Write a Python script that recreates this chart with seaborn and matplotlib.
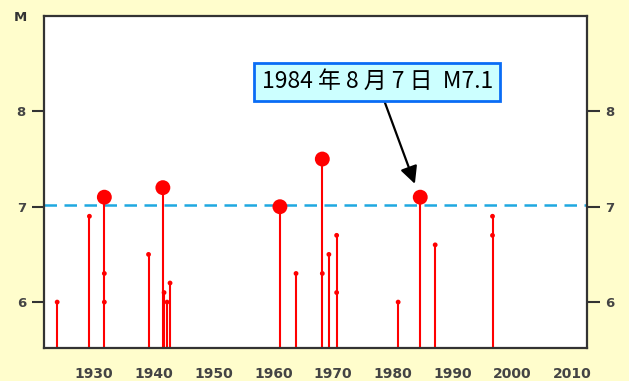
import seaborn as sns
import matplotlib.pyplot as plt
import matplotlib.ticker as mticker
import pandas as pd

# stems: year (decimal) and top magnitude
years = [1923.8, 1929.2, 1931.7, 1939.1, 1941.5, 1941.7, 1942.2, 1942.7,
         1961.1, 1963.8, 1968.2, 1969.3, 1970.6, 1980.9, 1984.6, 1987.1, 1996.7]
mags = [6.0, 6.9, 7.1, 6.5, 7.2, 6.1, 6.0, 6.2,
        7.0, 6.3, 7.5, 6.5, 6.7, 6.0, 7.1, 6.6, 6.9]
# extra small markers along stems
sub_years = [1931.7, 1931.7, 1968.2, 1970.6, 1996.7]
sub_mags = [6.3, 6.0, 6.3, 6.1, 6.7]

big_cut = 7.0
ref_line = 7.02
label_text = "1984 年 8 月 7 日  M7.1"
quake_year, quake_mag = 1984.6, 7.1

df = pd.DataFrame({"year": years, "mag": mags})
big = df[df["mag"] >= big_cut]
small = df[df["mag"] < big_cut]
sub = pd.DataFrame({"year": sub_years, "mag": sub_mags})

sns.set_style("white")
plt.rcParams['font.family'] = ['DejaVu Sans']

fig = plt.figure(figsize=(6.29, 3.81), dpi=100)
fig.patch.set_facecolor("#fffdcc")
ax = fig.add_axes([0.070, 0.087, 0.863, 0.871])
ax.set_facecolor("white")

ax.vlines(df["year"], 5.0, df["mag"], color="red", lw=1.5, zorder=2)
sns.scatterplot(data=small, x="year", y="mag", ax=ax, color="red", s=12,
                edgecolor="none", zorder=3, legend=False)
sns.scatterplot(data=sub, x="year", y="mag", ax=ax, color="red", s=12,
                edgecolor="none", zorder=3, legend=False)
sns.scatterplot(data=big, x="year", y="mag", ax=ax, color="red", s=115,
                edgecolor="none", zorder=4, legend=False)

ax.axhline(ref_line, color="#1fa8e0", lw=1.8, dashes=(5, 3), zorder=1)

ax.set_xlim(1921.6, 2012.5)
ax.set_ylim(5.52, 9.0)

ax.xaxis.set_major_locator(mticker.FixedLocator(range(1930, 2011, 10)))
ax.xaxis.set_minor_locator(mticker.FixedLocator(range(1924, 2011)))
ax.yaxis.set_major_locator(mticker.FixedLocator([6, 7, 8]))
ax.tick_params(axis="x", which="major", direction="out", length=11, width=1.5,
               color="#333333", labelsize=10, labelcolor="#444444", pad=3)
ax.tick_params(axis="x", which="minor", direction="out", length=5.5, width=1.2,
               color="#333333")
ax.tick_params(axis="y", which="major", direction="out", length=9, width=1.5,
               color="#333333", labelsize=9.5, labelcolor="#444444",
               left=True, right=True, labelleft=True, labelright=True, pad=4)
for lab in ax.get_xticklabels() + ax.get_yticklabels():
    lab.set_fontweight("bold")
for lab in ax.yaxis.get_ticklabels(which="major"):
    lab.set_fontweight("bold")
ax.set_xlabel("")
ax.set_ylabel("")
for sp in ax.spines.values():
    sp.set_color("#333333")
    sp.set_linewidth(1.6)

fig.text(0.033, 0.954, "M", fontsize=9.5, fontweight="bold", color="#333333",
         ha="center", va="center")

ax.annotate(label_text, xy=(1983.7, 7.24), xytext=(1977.4, 8.31),
            fontsize=16.5, ha="center", va="center", color="black",
            family=["Noto Sans CJK JP", "DejaVu Sans"],
            bbox=dict(boxstyle="square,pad=0.32", fc="#ccffff", ec="#0a6cf5", lw=2),
            arrowprops=dict(arrowstyle="-|>", color="black", lw=1.6,
                            mutation_scale=26, shrinkA=0, shrinkB=0),
            zorder=5)

fig.savefig("out.png", dpi=100, facecolor=fig.get_facecolor())
